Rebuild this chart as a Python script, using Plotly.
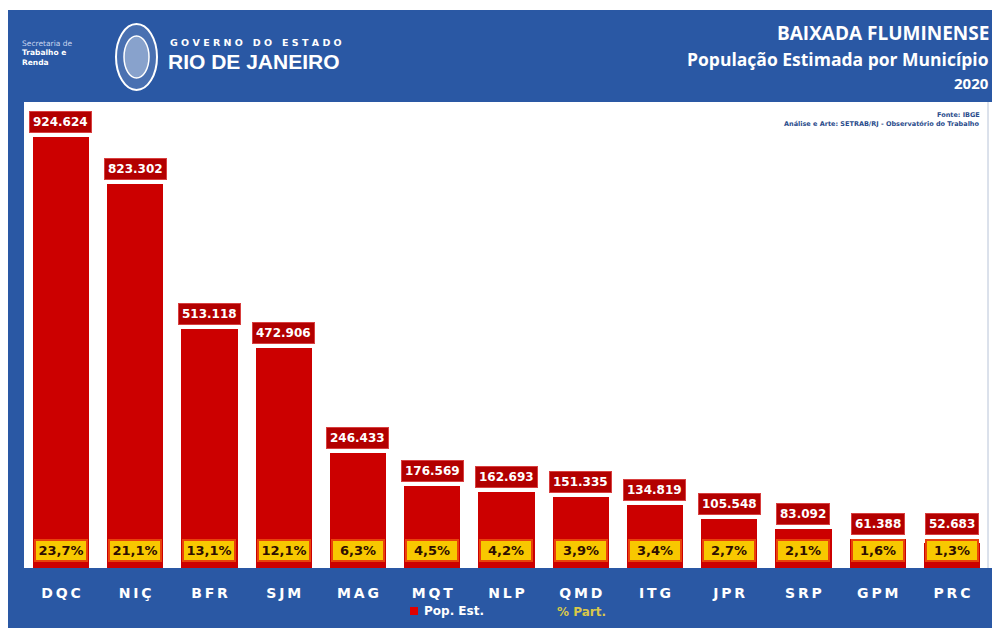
import plotly.graph_objects as go

# ---- data ----
categories = ["DQC", "NIÇ", "BFR", "SJM", "MAG", "MQT", "NLP", "QMD", "ITG", "JPR", "SRP", "GPM", "PRC"]
population = [924624, 823302, 513118, 472906, 246433, 176569, 162693, 151335, 134819, 105548, 83092, 61388, 52683]
pop_labels = ["924.624", "823.302", "513.118", "472.906", "246.433", "176.569", "162.693", "151.335",
              "134.819", "105.548", "83.092", "61.388", "52.683"]
share_labels = ["23,7%", "21,1%", "13,1%", "12,1%", "6,3%", "4,5%", "4,2%", "3,9%", "3,4%", "2,7%", "2,1%", "1,6%", "1,3%"]

# ---- layout constants ----
W, H = 992, 628
L, R, T, B = 24, 0, 102, 60
PW, PH = W - L - R, H - T - B
YMAX = 1_000_000
BLUE = "#2A58A4"
RED = "#CC0000"
LABEL_RED = "#B30000"
YELLOW = "#F8C800"
FONT = "DejaVu Sans"


def px_x(p):
    return (p - L) / PW


def px_y(p):
    return (H - B - p) / PH


tick_text = ["\u2009".join(list(c)) for c in categories]

fig = go.Figure()
fig.add_trace(go.Bar(
    x=list(range(len(categories))), y=population, width=0.755,
    marker=dict(color=RED, line=dict(width=0)), hoverinfo="skip", showlegend=False,
))

annotations = []
for i, (v, lab, sh) in enumerate(zip(population, pop_labels, share_labels)):
    bar_px = v / YMAX * PH
    lift = max(bar_px + 4, 33)
    annotations.append(dict(
        x=i, y=0, xref="x", yref="y", yanchor="bottom", xanchor="center", yshift=lift,
        text="<b>%s</b>" % lab, showarrow=False,
        font=dict(family=FONT, size=12, color="white"),
        bgcolor=LABEL_RED, bordercolor="#D84040", borderwidth=1, borderpad=3,
    ))
    annotations.append(dict(
        x=i, y=0, xref="x", yref="y", yanchor="bottom", xanchor="center", yshift=6,
        text="<b>%s</b>" % sh, showarrow=False, width=46,
        font=dict(family=FONT, size=13, color="#2E0E00"),
        bgcolor=YELLOW, bordercolor="#E8420A", borderwidth=2, borderpad=2,
    ))

# header texts
def ptext(px, py, text, size, color="white", anchor="left", family=FONT, yanchor="middle"):
    annotations.append(dict(
        x=px_x(px), y=px_y(py), xref="paper", yref="paper", xanchor=anchor, yanchor=yanchor,
        text=text, showarrow=False, font=dict(family=family, size=size, color=color),
    ))

ptext(20, 44, "Secretaria de", 7.5, color="#C8D6F0")
ptext(20, 53, "<b>Trabalho e</b>", 7.5)
ptext(20, 62, "<b>Renda</b>", 7.5)
ptext(168, 42, "<b>G O V E R N O   D O   E S T A D O</b>", 9.5)
ptext(166, 61, "<b>RIO DE JANEIRO</b>", 21, family="Liberation Sans")
ptext(991, 33, "<b>BAIXADA FLUMINENSE</b>", 19, family="Open Sans", anchor="right")
ptext(991, 59, "<b>População Estimada por Município</b>", 17.5, family="Open Sans", anchor="right")
ptext(991, 83, "<b>2020</b>", 15, family="Open Sans", anchor="right")
ptext(982, 115, "<b>Fonte: IBGE</b>", 6.5, color="#2A4C8C", anchor="right")
ptext(982, 124, "<b>Análise e Arte: SETRAB/RJ - Observatório do Trabalho</b>", 6.5, color="#2A4C8C", anchor="right")
ptext(422, 611, "<b>Pop. Est.</b>", 12)
ptext(555, 612, "<b>% Part.</b>", 12, color="#D9C84A")

shapes = [
    # white strips around the blue frame
    dict(type="rect", xref="paper", yref="paper", x0=px_x(0), x1=px_x(W), y0=px_y(10), y1=px_y(0),
         fillcolor="white", line=dict(width=0), layer="below"),
    dict(type="rect", xref="paper", yref="paper", x0=px_x(0), x1=px_x(8), y0=px_y(H), y1=px_y(0),
         fillcolor="white", line=dict(width=0), layer="below"),
    # faint right border line of the white panel
    dict(type="line", xref="paper", yref="paper", x0=px_x(988), x1=px_x(988), y0=px_y(568), y1=px_y(102),
         line=dict(color="#B8C4D8", width=1)),
    # header emblem
    dict(type="circle", xref="paper", yref="paper", x0=px_x(116), x1=px_x(157), y0=px_y(90), y1=px_y(24),
         fillcolor="rgba(255,255,255,0.15)", line=dict(color="white", width=2)),
    dict(type="circle", xref="paper", yref="paper", x0=px_x(124), x1=px_x(149), y0=px_y(78), y1=px_y(36),
         fillcolor="rgba(255,255,255,0.35)", line=dict(color="white", width=1.5)),
    # legend marker
    dict(type="rect", xref="paper", yref="paper", x0=px_x(410), x1=px_x(418), y0=px_y(615), y1=px_y(607),
         fillcolor="#E00000", line=dict(width=0)),
]

fig.update_layout(
    width=W, height=H, margin=dict(l=L, r=R, t=T, b=B),
    paper_bgcolor=BLUE, plot_bgcolor="white",
    xaxis=dict(range=[-0.498, -0.498 + PW / 74.25], tickmode="array",
               tickvals=list(range(len(categories))), ticktext=["<b>%s</b>" % t for t in tick_text],
               tickfont=dict(family=FONT, size=14, color="white"),
               ticks="outside", ticklen=12, tickcolor=BLUE, showgrid=False, zeroline=False,
               showline=False, fixedrange=True),
    yaxis=dict(range=[0, YMAX], visible=False, fixedrange=True),
    annotations=annotations, shapes=shapes, bargap=0, showlegend=False,
)

fig.write_html("out.html")
